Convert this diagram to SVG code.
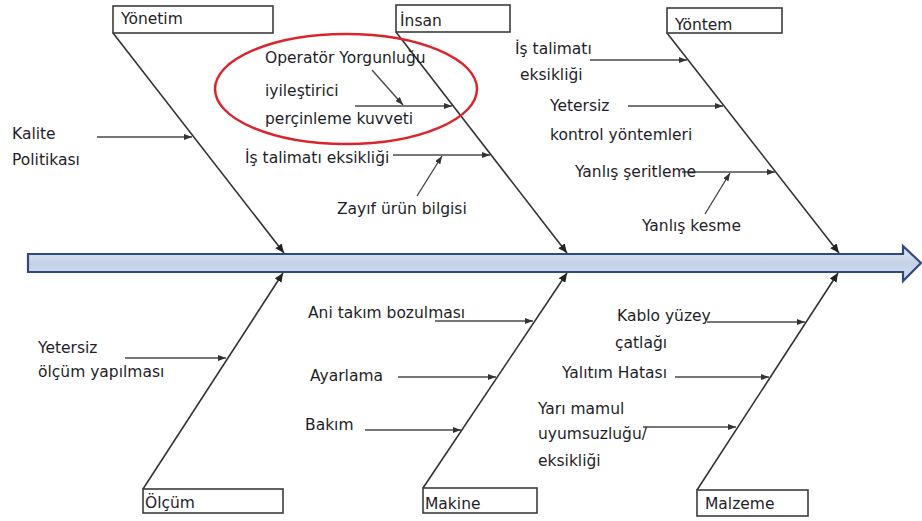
<svg xmlns="http://www.w3.org/2000/svg" width="922" height="521" viewBox="0 0 922 521">
<style>
.box{fill:#fff;stroke:#3c3c3c;stroke-width:1.6}
.t{font-family:"DejaVu Sans","Liberation Sans",sans-serif;font-size:15.5px;fill:#1e1e28}
.bone{stroke:#333;stroke-width:1.6;fill:none;marker-end:url(#ah)}
.sub{stroke:#4a4a4a;stroke-width:1.4;fill:none;marker-end:url(#sh)}
</style>
<defs>
<marker id="ah" markerUnits="userSpaceOnUse" markerWidth="10" markerHeight="8" refX="9" refY="4" orient="auto"><path d="M0,0 L9,4 L0,8 Z" fill="#222"/></marker>
<marker id="sh" markerUnits="userSpaceOnUse" markerWidth="9" markerHeight="6" refX="8" refY="3" orient="auto"><path d="M0,0 L8,3 L0,6 Z" fill="#333"/></marker>
<linearGradient id="sg" x1="0" y1="0" x2="0" y2="1">
<stop offset="0" stop-color="#e4eaf4"/><stop offset="0.5" stop-color="#c5d1e6"/><stop offset="1" stop-color="#d6dfee"/>
</linearGradient>
</defs>

<g id="spine">
<path d="M28,254 L903,254 L903,246 L921,263 L903,281 L903,272 L28,272 Z" fill="url(#sg)" stroke="#2e4a85" stroke-width="2.2" stroke-linejoin="miter"/>
</g>

<g id="connectors">
<line class="bone" x1="113" y1="33" x2="284" y2="253"/>
<line class="bone" x1="396" y1="32" x2="567" y2="253"/>
<line class="bone" x1="667" y1="33" x2="839" y2="253"/>
<line class="bone" x1="143" y1="489" x2="283" y2="273"/>
<line class="bone" x1="423" y1="488" x2="567" y2="273"/>
<line class="bone" x1="697" y1="490" x2="838" y2="273"/>

<line class="sub" x1="97" y1="137" x2="192" y2="137"/>
<line class="sub" x1="355" y1="106" x2="452" y2="106"/>
<line class="sub" x1="372" y1="70" x2="403" y2="105"/>
<line class="sub" x1="393" y1="155" x2="490" y2="155"/>
<line class="sub" x1="417" y1="196" x2="442" y2="156"/>
<line class="sub" x1="590" y1="60" x2="687" y2="60"/>
<line class="sub" x1="628" y1="106" x2="723" y2="106"/>
<line class="sub" x1="682" y1="172" x2="775" y2="172"/>
<line class="sub" x1="705" y1="214" x2="730" y2="173"/>

<line class="sub" x1="125" y1="358" x2="226" y2="358"/>
<line class="sub" x1="435" y1="321" x2="533" y2="321"/>
<line class="sub" x1="398" y1="377" x2="496" y2="377"/>
<line class="sub" x1="365" y1="430" x2="461" y2="430"/>
<line class="sub" x1="707" y1="322" x2="805" y2="322"/>
<line class="sub" x1="675" y1="377" x2="769" y2="377"/>
<line class="sub" x1="643" y1="427" x2="736" y2="427"/>
</g>

<g id="yonetim"><rect class="box" x="113" y="6" width="160" height="27"/><text class="t" x="121" y="24">Yönetim</text></g>
<g id="insan"><rect class="box" x="396" y="5" width="114" height="27"/><text class="t" x="400" y="26">İnsan</text></g>
<g id="yontem"><rect class="box" x="667" y="8" width="115" height="25"/><text class="t" x="675" y="30">Yöntem</text></g>
<g id="olcum"><rect class="box" x="143" y="489" width="140" height="24"/><text class="t" x="145" y="508">Ölçüm</text></g>
<g id="makine"><rect class="box" x="423" y="488" width="114" height="25"/><text class="t" x="425" y="509">Makine</text></g>
<g id="malzeme"><rect class="box" x="697" y="490" width="111" height="26"/><text class="t" x="705" y="509">Malzeme</text></g>

<g id="kalite"><text class="t" x="12" y="139">Kalite</text><text class="t" x="12" y="165">Politikası</text></g>
<g id="operator-yorgunlugu"><text class="t" x="265" y="63">Operatör Yorgunluğu</text></g>
<g id="iyilestirici"><text class="t" x="265" y="96">iyileştirici</text><text class="t" x="265" y="124">perçinleme kuvveti</text></g>
<g id="vurgu"><ellipse cx="346" cy="89" rx="131" ry="55" fill="none" stroke="#d9252b" stroke-width="2.5"/></g>
<g id="is-talimati-1"><text class="t" x="245" y="163">İş talimatı eksikliği</text></g>
<g id="zayif-urun"><text class="t" x="337" y="214">Zayıf ürün bilgisi</text></g>
<g id="is-talimati-2"><text class="t" x="515" y="54">İş talimatı</text><text class="t" x="520" y="80">eksikliği</text></g>
<g id="yetersiz-kontrol"><text class="t" x="550" y="111">Yetersiz</text><text class="t" x="550" y="140">kontrol yöntemleri</text></g>
<g id="yanlis-seritleme"><text class="t" x="575" y="177">Yanlış şeritleme</text></g>
<g id="yanlis-kesme"><text class="t" x="642" y="231">Yanlış kesme</text></g>

<g id="yetersiz-olcum"><text class="t" x="38" y="353">Yetersiz</text><text class="t" x="38" y="377">ölçüm yapılması</text></g>
<g id="ani-takim"><text class="t" x="308" y="318">Ani takım bozulması</text></g>
<g id="ayarlama"><text class="t" x="310" y="381">Ayarlama</text></g>
<g id="bakim"><text class="t" x="305" y="430">Bakım</text></g>
<g id="kablo"><text class="t" x="617" y="321">Kablo yüzey</text><text class="t" x="615" y="348">çatlağı</text></g>
<g id="yalitim"><text class="t" x="562" y="378">Yalıtım Hatası</text></g>
<g id="yari-mamul"><text class="t" x="538" y="414">Yarı mamul</text><text class="t" x="538" y="439">uyumsuzluğu/</text><text class="t" x="538" y="466">eksikliği</text></g>
</svg>
